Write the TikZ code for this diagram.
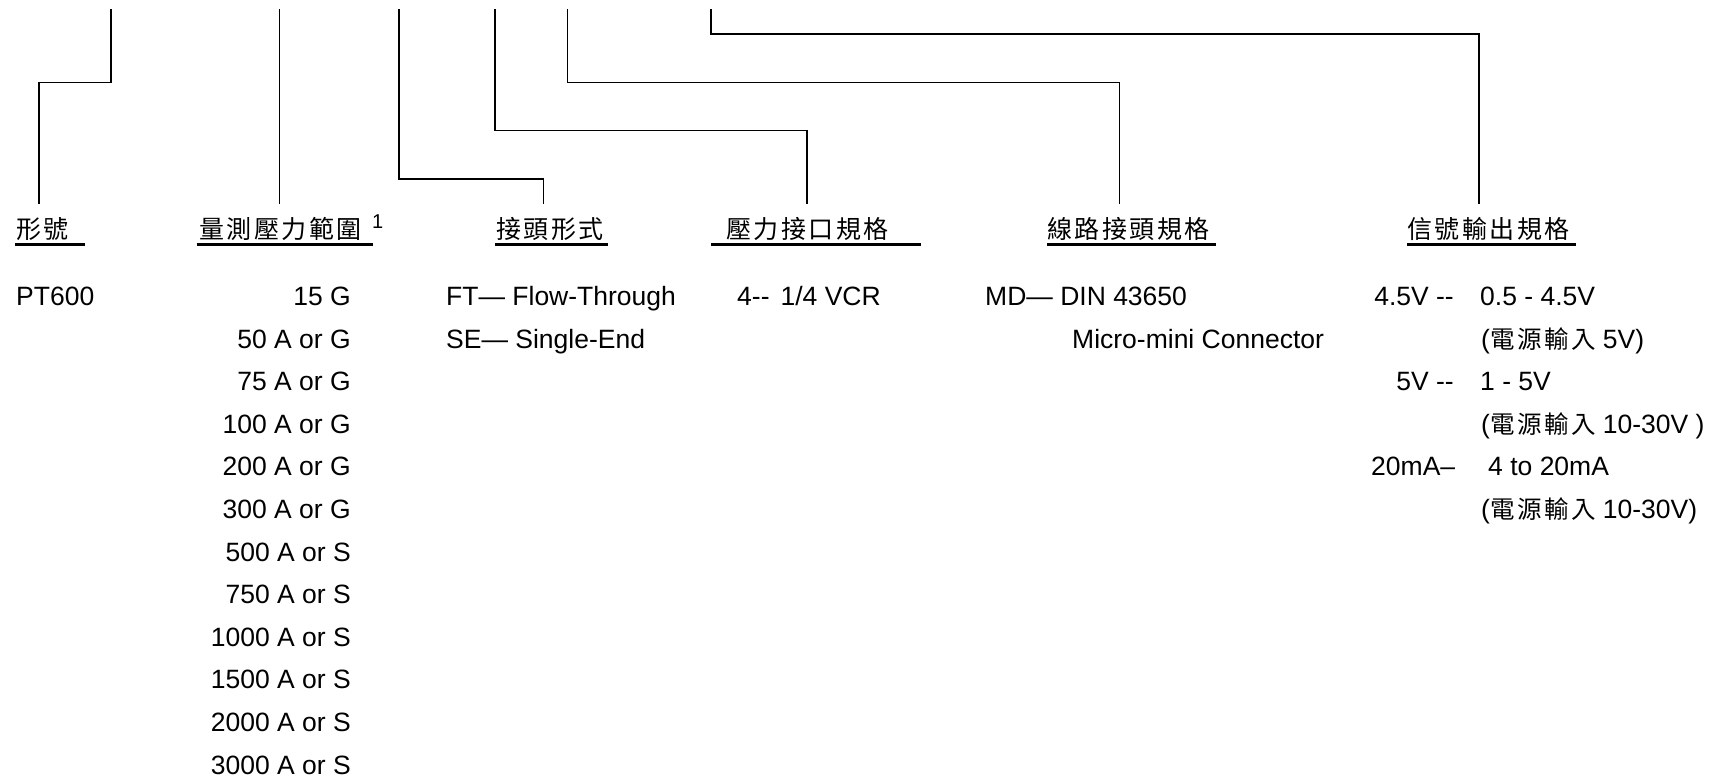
\documentclass[tikz,border=0pt]{standalone}
\usepackage{fontspec}
\setmainfont{Liberation Sans}
\newfontfamily\cjk{Noto Sans CJK TC}
\newcommand{\cjgap}{\kern2.5pt\relax}
\newcommand{\zh}[1]{{\cjk\fontsize{24.5}{28}\selectfont #1}}
\tikzset{
  conn/.style={line width=1.6pt, line cap=rect},
  uline/.style={line width=2.2pt},
  hd/.style={inner sep=0pt, anchor=base west, font=\cjk\fontsize{25}{28}\selectfont},
  txt/.style={inner sep=0pt, anchor=base west, font=\fontsize{26.5}{30}\selectfont},
  txtr/.style={inner sep=0pt, anchor=base east, font=\fontsize{26.5}{30}\selectfont},
}
\begin{document}
\begin{tikzpicture}[x=1pt,y=-1pt]
\useasboundingbox (0,0) rectangle (1719,778);
\fill[white] (0,0) rectangle (1719,778);

% headers
\node[hd] (hA) at (16,238.5) {形\cjgap 號};
\node[hd] (hB) at (199,238.5) {量\cjgap 測\cjgap 壓\cjgap 力\cjgap 範\cjgap 圍};
\node[inner sep=0pt, anchor=base west, font=\fontsize{20}{22}\selectfont] (hBsup) at (372,228.5) {1};
\node[hd] (hC) at (496,238.5) {接\cjgap 頭\cjgap 形\cjgap 式};
\node[hd] (hD) at (726,238.5) {壓\cjgap 力\cjgap 接\cjgap 口\cjgap 規\cjgap 格};
\node[hd] (hE) at (1047,238.5) {線\cjgap 路\cjgap 接\cjgap 頭\cjgap 規\cjgap 格};
\node[hd] (hF) at (1407,238.5) {信\cjgap 號\cjgap 輸\cjgap 出\cjgap 規\cjgap 格};

% underlines
\coordinate (uA1) at (15,244.5);    \coordinate (uA2) at (85,244.5);
\coordinate (uB1) at (196.7,244.5); \coordinate (uB2) at (372.7,244.5);
\coordinate (uC1) at (495,244.5);   \coordinate (uC2) at (608.3,244.5);
\coordinate (uD1) at (711,244.5);   \coordinate (uD2) at (920.7,244.5);
\coordinate (uE1) at (1047.3,244.5);\coordinate (uE2) at (1216,244.5);
\coordinate (uF1) at (1407.3,244.5);\coordinate (uF2) at (1576,244.5);
\draw[uline] (uA1) -- (uA2);
\draw[uline] (uB1) -- (uB2);
\draw[uline] (uC1) -- (uC2);
\draw[uline] (uD1) -- (uD2);
\draw[uline] (uE1) -- (uE2);
\draw[uline] (uF1) -- (uF2);

% connectors
\coordinate (tA) at (111,10);   \coordinate (eA) at (38.7,203);
\coordinate (tB) at (279.3,10); \coordinate (eB) at (279.3,203);
\coordinate (tC) at (398.7,10); \coordinate (eC) at (543.3,203);
\coordinate (tD) at (495,10);   \coordinate (eD) at (806.7,203);
\coordinate (tE) at (567.3,10); \coordinate (eE) at (1119.3,203);
\coordinate (tF) at (710.7,10); \coordinate (eF) at (1479,203);
\draw[conn] (tA) -- ++(0,72.7) -| (eA);
\draw[conn] (tB) -- (eB);
\draw[conn] (tC) -- ++(0,169) -| (eC);
\draw[conn] (tD) -- ++(0,120.7) -| (eD);
\draw[conn] (tE) -- ++(0,72.7) -| (eE);
\draw[conn] (tF) -- ++(0,24.3) -| (eF);

% column 1
\node[txt] (pt) at (16,305.5) {PT600};

% column 2
\node[txtr] (r1)  at (351,305.5) {15 G};
\node[txtr] (r2)  at (351,348.1) {50 A or G};
\node[txtr] (r3)  at (351,390.7) {75 A or G};
\node[txtr] (r4)  at (351,433.3) {100 A or G};
\node[txtr] (r5)  at (351,475.9) {200 A or G};
\node[txtr] (r6)  at (351,518.5) {300 A or G};
\node[txtr] (r7)  at (351,561.1) {500 A or S};
\node[txtr] (r8)  at (351,603.7) {750 A or S};
\node[txtr] (r9)  at (351,646.3) {1000 A or S};
\node[txtr] (r10) at (351,688.9) {1500 A or S};
\node[txtr] (r11) at (351,731.5) {2000 A or S};
\node[txtr] (r12) at (351,774.1) {3000 A or S};

% column 3
\node[txt] (ft) at (446,305.5) {FT— Flow-Through};
\node[txt] (se) at (446,348.1) {SE— Single-End};

% column 4
\node[txt] (vcr) at (737,305.5) {4-{}-\hspace{11pt}1/4 VCR};

% column 5
\node[txt] (md) at (985,305.5) {MD— DIN 43650};
\node[txt] (mm) at (1072,348.1) {Micro-mini Connector};

% column 6
\node[txtr] (o1a) at (1454,305.5) {4.5V -{}-};
\node[txt]  (o1b) at (1480,305.5) {0.5 - 4.5V};
\node[txt]  (o1c) at (1481,348.1) {(\zh{電\cjgap 源\cjgap 輸\cjgap 入} 5V)};
\node[txtr] (o2a) at (1454,390.7) {5V -{}-};
\node[txt]  (o2b) at (1480,390.7) {1 - 5V};
\node[txt]  (o2c) at (1481,433.3) {(\zh{電\cjgap 源\cjgap 輸\cjgap 入} 10-30V )};
\node[txt]  (o3a) at (1371,475.9) {20mA–};
\node[txt]  (o3b) at (1488,475.9) {4 to 20mA};
\node[txt]  (o3c) at (1481,518.5) {(\zh{電\cjgap 源\cjgap 輸\cjgap 入} 10-30V)};
\end{tikzpicture}
\end{document}
